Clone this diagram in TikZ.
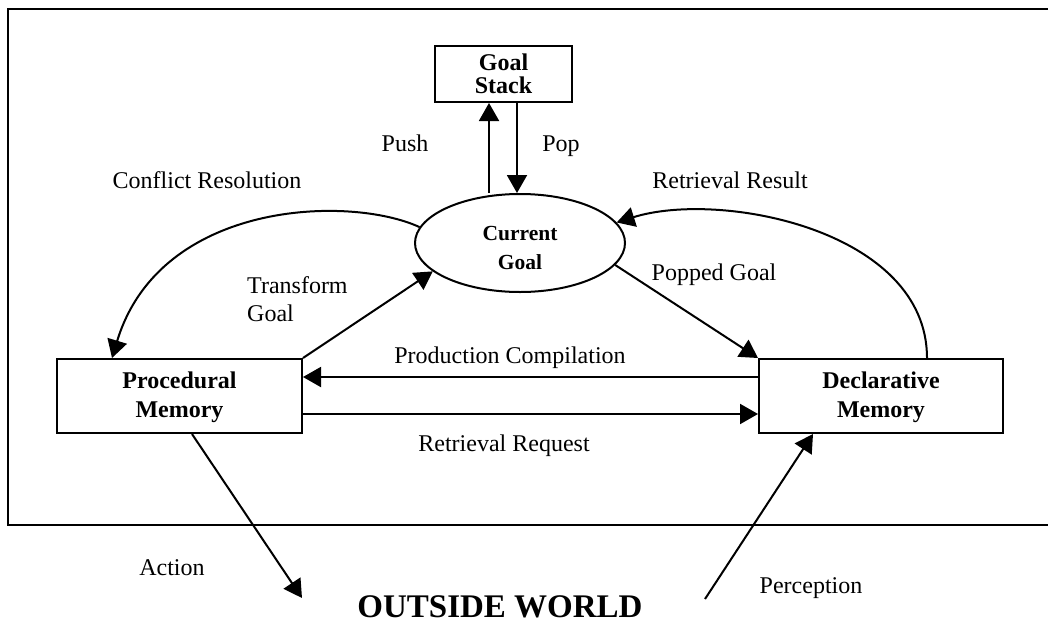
\documentclass[tikz,border=0pt]{standalone}
\usepackage{fontspec}
\setmainfont{Liberation Serif}
\usetikzlibrary{arrows.meta,shapes.geometric}
\begin{document}
\begin{tikzpicture}[x=1pt,y=-1pt,
  lbl/.style={inner sep=0pt, anchor=base, font=\fontsize{24}{28}\selectfont},
  boxlbl/.style={draw, line width=2pt, font=\fontsize{24}{29}\selectfont\bfseries, align=center, inner sep=0pt},
  arr/.style={line width=2pt, -{Triangle[length=18pt,width=20pt]}},
  frame/.style={line width=2.6pt}]
\clip (0,0) rectangle (1048,624);
\draw[frame] (1060,9) -- (8,9) -- (8,525) -- (1060,525);
% nodes
\node[boxlbl, minimum width=137pt, minimum height=56pt, font=\fontsize{24}{23}\selectfont\bfseries] (gs) at (503.5,74) {Goal\\Stack};
\node[draw, ellipse, line width=2pt, minimum width=210pt, minimum height=98pt, inner sep=0pt, align=center, font=\fontsize{21.5}{29}\selectfont\bfseries] (cg) at (520,243) {\rule{0pt}{25pt}Current\\Goal};
\node[boxlbl, minimum width=245pt, minimum height=74pt] (pm) at (179.5,396) {\rule{0pt}{20pt}Procedural\\Memory};
\node[boxlbl, minimum width=244pt, minimum height=74pt] (dm) at (881,396) {\rule{0pt}{20pt}Declarative\\Memory};
% helper coordinates
\coordinate (pushx) at (489,0);
\coordinate (popx) at (517,0);
\coordinate (confx) at (112,0);
\coordinate (rrx) at (927,0);
\coordinate (act) at (302,598);
\coordinate (perc) at (705,599);
% connectors
\draw[arr] (pushx |- cg.north) -- (pushx |- gs.south);
\draw[arr] (popx |- gs.south) -- (popx |- cg.north);
\draw[arr] (cg.171) .. controls (350,195) and (160,200) .. (confx |- pm.north);
\draw[arr] (rrx |- dm.north) .. controls (927,230) and (720,190) .. (cg.12);
\draw[arr] (pm.north east) -- (cg.198);
\draw[arr] (cg.-13) -- (dm.north west);
\draw[arr] ([yshift=19pt]dm.west) -- ([yshift=19pt]pm.east);
\draw[arr] ([yshift=-18pt]pm.east) -- ([yshift=-18pt]dm.west);
\draw[arr] ([xshift=12.5pt]pm.south) -- (act);
\draw[arr] (perc) -- ([xshift=-68pt]dm.south);
% labels
\node[lbl] (lpush) at (405,151) {Push};
\node[lbl] (lpop) at (561,151) {Pop};
\node[lbl] (lcr) at (207,188) {Conflict Resolution};
\node[lbl] (lrr) at (730,188) {Retrieval Result};
\node[lbl, anchor=base west] (ltg1) at (247,293) {Transform};
\node[lbl, anchor=base west] (ltg2) at (247,321) {Goal};
\node[lbl] (lpg) at (714,280) {Popped Goal};
\node[lbl] (lpc) at (510,363) {Production Compilation};
\node[lbl] (lrq) at (504,451) {Retrieval Request};
\node[lbl] (lact) at (172,575) {Action};
\node[lbl] (lper) at (811,593) {Perception};
\node[lbl, font=\fontsize{33}{36}\selectfont\bfseries] (low) at (500,617) {OUTSIDE WORLD};
\end{tikzpicture}
\end{document}
